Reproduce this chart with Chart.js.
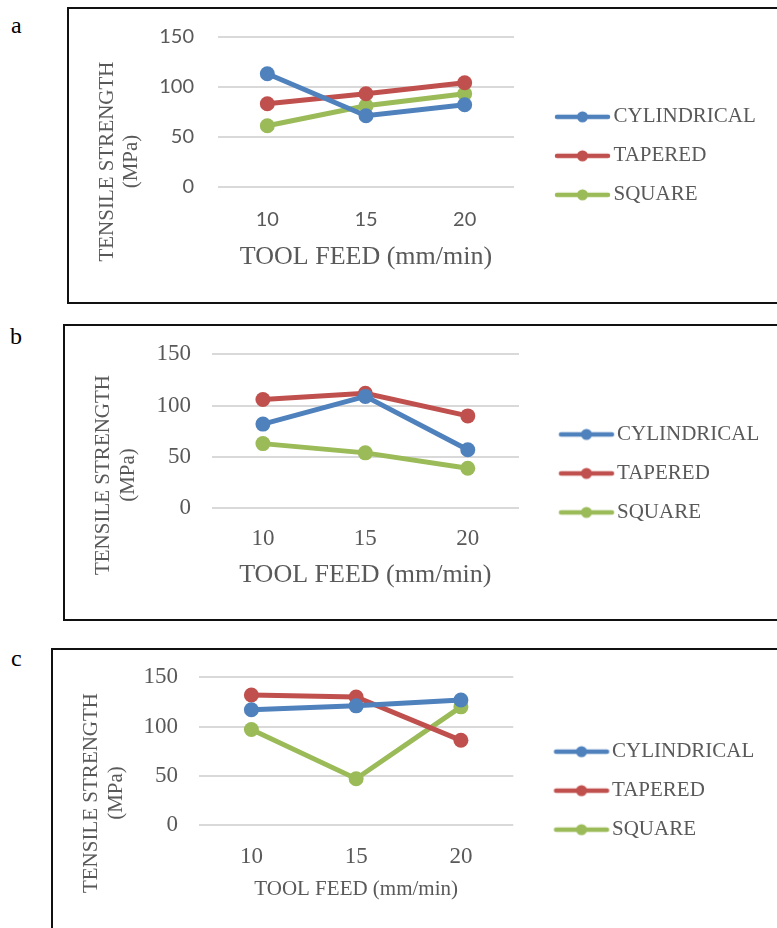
<!DOCTYPE html>
<html><head><meta charset="utf-8">
<script src="https://cdn.jsdelivr.net/npm/chart.js@4.4.1/dist/chart.umd.min.js"></script>
<style>
html,body{margin:0;padding:0;background:#fff;width:777px;height:928px;overflow:hidden;position:relative;}
.box{position:absolute;border:2px solid #111;box-sizing:border-box;}
.lbl{position:absolute;font-family:"Liberation Serif","Times New Roman",serif;font-size:24px;line-height:24px;color:#000;}
canvas{position:absolute;left:0;}
</style></head><body>
<div class="box" style="left:67px;top:7px;width:800px;height:297px"></div>
<div class="box" style="left:63px;top:324px;width:800px;height:297px"></div>
<div class="box" style="left:51px;top:648px;width:800px;height:400px"></div>
<div class="lbl" style="left:11px;top:13px">a</div>
<div class="lbl" style="left:10px;top:324px">b</div>
<div class="lbl" style="left:11px;top:646px">c</div>
<canvas id="ca" width="777" height="300" style="top:0px"></canvas>
<canvas id="cb" width="777" height="310" style="top:310px"></canvas>
<canvas id="cc" width="777" height="298" style="top:630px"></canvas>
<script>
// ---- data ----
const feedLabels = ['10', '15', '20'];
const seriesNames = ['CYLINDRICAL', 'TAPERED', 'SQUARE'];
const seriesColors = ['#4F81BD', '#C0504D', '#9BBB59'];
const yTicks = [0, 50, 100, 150];
const yTitleLines = ['TENSILE STRENGTH', '(MPa)'];
const xTitle = 'TOOL FEED (mm/min)';

const cylindricalA = [113, 71, 82];
const taperedA = [83, 93, 104];
const squareA = [61, 81, 93];

const cylindricalB = [82, 109, 57];
const taperedB = [106, 112, 90];
const squareB = [63, 54, 39];

const cylindricalC = [117, 121, 127];
const taperedC = [132, 130, 86];
const squareC = [97, 47, 120];

// ---- layout (page coordinates) ----
const SERIF = '"Liberation Serif","Times New Roman",serif';
const GRAY = '#595959';
const panels = [
  { id: 'ca', top: 0, height: 300, values: [cylindricalA, taperedA, squareA],
    chartLeft: 218, chartRight: 514, chartTop: 36.7, chartBottom: 186.7, scaleBottom: 275,
    tickFont: { family: 'Lato', size: 20 }, yTickPad: 24, xTickPad: 13.3,
    xTitleSize: 26, xTitlePad: 2.5,
    yTitleX: [107, 131], yTitleCy: 161.5,
    lineStart: 555, lineEnd: 610, textStart: 613.5 },
  { id: 'cb', top: 310, height: 310, values: [cylindricalB, taperedB, squareB],
    chartLeft: 211.7, chartRight: 519, chartTop: 354.3, chartBottom: 508.3, scaleBottom: 592.5,
    tickFont: { family: SERIF, size: 23 }, yTickPad: 20.7, xTickPad: 8.9,
    xTitleSize: 26, xTitlePad: 2,
    yTitleX: [103, 128], yTitleCy: 475,
    lineStart: 559, lineEnd: 614, textStart: 617 },
  { id: 'cc', top: 630, height: 298, values: [cylindricalC, taperedC, squareC],
    chartLeft: 199, chartRight: 513.3, chartTop: 677.3, chartBottom: 825, scaleBottom: 904,
    tickFont: { family: SERIF, size: 23 }, yTickPad: 21, xTickPad: 10.2,
    xTitleSize: 21, xTitlePad: 1.5,
    yTitleX: [91, 116], yTitleCy: 793,
    lineStart: 554, lineEnd: 609, textStart: 612 }
];

const LEG_FONT = 21, LEG_PAD = 18;

function legendImage(color, p, bw) {
  const boxLeft = p.chartRight + LEG_PAD;
  const center = boxLeft + bw / 2;
  const half = Math.max(center - p.lineStart, p.lineEnd - center) + 4;
  const W = Math.ceil(half * 2), H = 16;
  const imgLeft = center - W / 2;
  const c = document.createElement('canvas');
  c.width = W; c.height = H;
  const g = c.getContext('2d');
  g.strokeStyle = color; g.fillStyle = color;
  g.lineWidth = 4.5; g.lineCap = 'round';
  g.beginPath();
  g.moveTo(p.lineStart - imgLeft + 2, H / 2);
  g.lineTo(p.lineEnd - imgLeft - 2, H / 2);
  g.stroke();
  g.beginPath();
  g.arc((p.lineStart + p.lineEnd) / 2 - imgLeft, H / 2, 5.5, 0, Math.PI * 2);
  g.fill();
  return c;
}

// let the legend box reach the canvas edge so long labels are not clipped
const legendWidthPlugin = {
  id: 'legendWidth',
  afterLayout(chart) {
    const l = chart.legend;
    if (l) { l.right = chart.width; l.width = l.right - l.left; }
  }
};

panels.forEach(p => {
  const W = 777;
  const avail = p.chartRight / 0.75;          // legend box is capped at avail/4 by the layout
  const padRight = W - avail;
  const padTop = p.chartTop - p.top;
  const padBottom = (p.top + p.height) - p.scaleBottom;
  const bw = p.textStart - p.chartRight - LEG_PAD - LEG_FONT / 2;
  const imgs = seriesColors.map(c => legendImage(c, p, bw));
  const canvasTop = p.top;

  const yTitlePlugin = {
    id: 'yTitle',
    afterDraw(chart) {
      const ctx = chart.ctx;
      ctx.save();
      ctx.fillStyle = GRAY;
      ctx.font = '21px ' + SERIF;
      ctx.textAlign = 'center';
      ctx.textBaseline = 'middle';
      yTitleLines.forEach((t, i) => {
        ctx.save();
        ctx.translate(p.yTitleX[i], p.yTitleCy - canvasTop);
        ctx.rotate(-Math.PI / 2);
        ctx.fillText(t, 0, 0);
        ctx.restore();
      });
      ctx.restore();
    }
  };

  new Chart(document.getElementById(p.id), {
    type: 'line',
    data: {
      labels: feedLabels,
      datasets: seriesNames.map((n, i) => ({
        label: n,
        data: p.values[i],
        borderColor: seriesColors[i],
        backgroundColor: seriesColors[i],
        borderWidth: 5,
        pointRadius: 7.5,
        pointHoverRadius: 7.5,
        pointBorderWidth: 0,
        tension: 0
      }))
    },
    options: {
      responsive: false,
      animation: false,
      devicePixelRatio: 1,
      layout: { padding: { left: 0, right: padRight, top: padTop, bottom: padBottom } },
      scales: {
        x: {
          offset: true,
          grid: { display: false },
          border: { display: false },
          ticks: { font: p.tickFont, color: GRAY, padding: p.xTickPad, maxRotation: 0 },
          title: { display: true, text: xTitle, color: GRAY,
                   font: { family: SERIF, size: p.xTitleSize },
                   padding: { top: 0, bottom: p.xTitlePad } },
          afterFit(s) { s.height = p.scaleBottom - p.chartBottom; }
        },
        y: {
          min: 0, max: 150,
          afterBuildTicks(s) { s.ticks = yTicks.map(v => ({ value: v })); },
          grid: { color: '#D9D9D9', lineWidth: 2, drawTicks: false },
          border: { display: false },
          ticks: { font: p.tickFont, color: GRAY, padding: p.yTickPad },
          afterFit(s) { s.width = p.chartLeft; }
        }
      },
      plugins: {
        tooltip: { enabled: false },
        legend: {
          position: 'right',
          align: 'center',
          labels: {
            usePointStyle: true,
            pointStyleWidth: bw,
            padding: LEG_PAD,
            color: GRAY,
            font: { family: SERIF, size: LEG_FONT },
            generateLabels(chart) {
              return chart.data.datasets.map((ds, i) => ({
                text: ds.label,
                fillStyle: ds.borderColor,
                strokeStyle: ds.borderColor,
                fontColor: GRAY,
                lineWidth: 0,
                pointStyle: imgs[i],
                hidden: false,
                datasetIndex: i
              }));
            }
          }
        }
      }
    },
    plugins: [yTitlePlugin, legendWidthPlugin]
  });
});
</script>
</body></html>
